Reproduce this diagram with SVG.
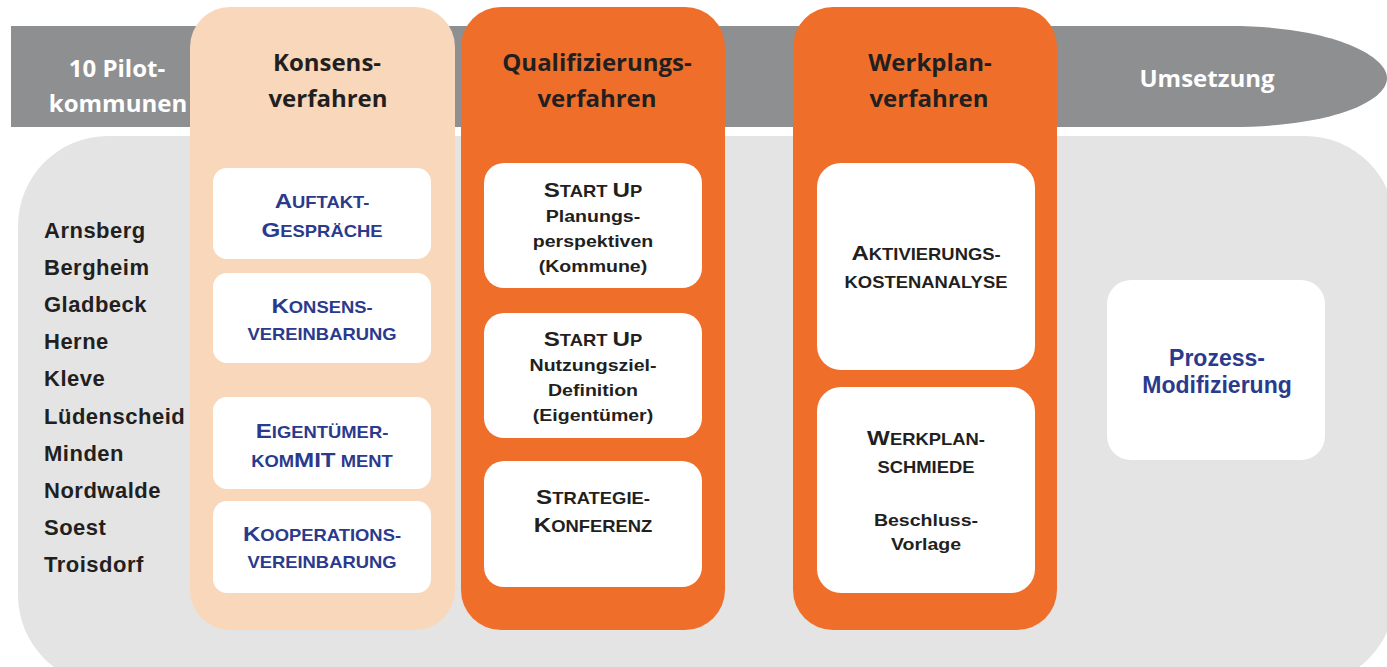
<svg xmlns="http://www.w3.org/2000/svg" width="1387" height="667" viewBox="0 0 1387 667">
<style>
.h{font-family:"Open Sans","Liberation Sans",sans-serif;font-weight:700;font-size:24px;text-anchor:middle}
.w{fill:#ffffff}
.d{fill:#231F20}
.bl{fill:#2B3A8C}
.bx{font-family:"Liberation Sans",Arial,sans-serif;font-weight:700;font-size:17px;text-anchor:middle}
.S{font-size:16px}
.L{font-size:21px}
.city{font-family:"Liberation Sans",Arial,sans-serif;font-weight:700;font-size:22px;letter-spacing:0.5px;fill:#231F20}
.card{fill:#ffffff}
.peach{fill:#F8D7BA}
.orange{fill:#EF6F2A}
</style>
<rect width="1387" height="667" fill="#ffffff"/>
<g id="banner">
<path d="M11 26 H1230 C1330 26 1387 55 1387 78 C1387 102 1330 127 1230 127 H11 Z" fill="#8E8F91"/>
<text class="h w" x="117" y="77">10 Pilot-</text>
<text class="h w" x="118" y="112">kommunen</text>
<text class="h w" x="1207" y="87">Umsetzung</text>
</g>
<g id="panel">
<path d="M18 226 A90 90 0 0 1 108 136 H1305 A90 90 0 0 1 1395 226 V595 A90 90 0 0 1 1305 685 H108 A90 90 0 0 1 18 595 Z" fill="#E4E4E4"/>
</g>
<g id="cities">
<text class="city" x="44" y="238">Arnsberg</text>
<text class="city" x="44" y="275">Bergheim</text>
<text class="city" x="44" y="312">Gladbeck</text>
<text class="city" x="44" y="349">Herne</text>
<text class="city" x="44" y="386">Kleve</text>
<text class="city" x="44" y="424">Lüdenscheid</text>
<text class="city" x="44" y="461">Minden</text>
<text class="city" x="44" y="498">Nordwalde</text>
<text class="city" x="44" y="535">Soest</text>
<text class="city" x="44" y="572">Troisdorf</text>
</g>
<g id="konsensverfahren">
<rect class="peach" x="190" y="7" width="265" height="623" rx="40"/>
<text class="h d" x="327" y="71">Konsens-</text>
<text class="h d" x="328" y="107">verfahren</text>
</g>
<g id="auftakt">
<rect class="card" x="213" y="168" width="218" height="91" rx="14"/>
<g transform="matrix(1.15 0 0 1 322 0)">
<text class="bx bl S" x="0" y="208"><tspan class="L">A</tspan>UFTAKT-</text>
<text class="bx bl S" x="0" y="237"><tspan class="L">G</tspan>ESPRÄCHE</text>
</g>
</g>
<g id="konsensvereinbarung">
<rect class="card" x="213" y="273" width="218" height="90" rx="14"/>
<g transform="matrix(1.15 0 0 1 322 0)">
<text class="bx bl S" x="0" y="313"><tspan class="L">K</tspan>ONSENS-</text>
<text class="bx bl S" x="0" y="340">VEREINBARUNG</text>
</g>
</g>
<g id="eigentuemer">
<rect class="card" x="213" y="397" width="218" height="92" rx="14"/>
<g transform="matrix(1.15 0 0 1 322 0)">
<text class="bx bl S" x="0" y="438"><tspan class="L">E</tspan>IGENTÜMER-</text>
<text class="bx bl S" x="0" y="467">KOM<tspan class="L">MIT</tspan> MENT</text>
</g>
</g>
<g id="kooperation">
<rect class="card" x="213" y="501" width="218" height="92" rx="14"/>
<g transform="matrix(1.15 0 0 1 322 0)">
<text class="bx bl S" x="0" y="541"><tspan class="L">K</tspan>OOPERATIONS-</text>
<text class="bx bl S" x="0" y="568">VEREINBARUNG</text>
</g>
</g>
<g id="qualifizierungsverfahren">
<rect class="orange" x="461" y="7" width="264" height="623" rx="40"/>
<text class="h d" x="597" y="71">Qualifizierungs-</text>
<text class="h d" x="597" y="107">verfahren</text>
</g>
<g id="startup1">
<rect class="card" x="484" y="163" width="218" height="125" rx="20"/>
<g transform="matrix(1.15 0 0 1 593 0)">
<text class="bx d S" x="0" y="197"><tspan class="L">S</tspan>TART <tspan class="L">U</tspan>P</text>
<text class="bx d" x="0" y="222">Planungs-</text>
<text class="bx d" x="0" y="247">perspektiven</text>
<text class="bx d" x="0" y="272">(Kommune)</text>
</g>
</g>
<g id="startup2">
<rect class="card" x="484" y="313" width="218" height="125" rx="20"/>
<g transform="matrix(1.15 0 0 1 593 0)">
<text class="bx d S" x="0" y="346"><tspan class="L">S</tspan>TART <tspan class="L">U</tspan>P</text>
<text class="bx d" x="0" y="371">Nutzungsziel-</text>
<text class="bx d" x="0" y="396">Definition</text>
<text class="bx d" x="0" y="421">(Eigentümer)</text>
</g>
</g>
<g id="strategiekonferenz">
<rect class="card" x="484" y="461" width="218" height="126" rx="20"/>
<g transform="matrix(1.15 0 0 1 593 0)">
<text class="bx d S" x="0" y="504"><tspan class="L">S</tspan>TRATEGIE-</text>
<text class="bx d S" x="0" y="532"><tspan class="L">K</tspan>ONFERENZ</text>
</g>
</g>
<g id="werkplanverfahren">
<rect class="orange" x="793" y="7" width="264" height="623" rx="40"/>
<text class="h d" x="930" y="71">Werkplan-</text>
<text class="h d" x="929" y="107">verfahren</text>
</g>
<g id="aktivierung">
<rect class="card" x="817" y="163" width="218" height="207" rx="24"/>
<g transform="matrix(1.15 0 0 1 926 0)">
<text class="bx d S" x="0" y="260"><tspan class="L">A</tspan>KTIVIERUNGS-</text>
<text class="bx d S" x="0" y="288">KOSTENANALYSE</text>
</g>
</g>
<g id="werkplanschmiede">
<rect class="card" x="817" y="387" width="218" height="206" rx="24"/>
<g transform="matrix(1.15 0 0 1 926 0)">
<text class="bx d S" x="0" y="445"><tspan class="L">W</tspan>ERKPLAN-</text>
<text class="bx d S" x="0" y="473">SCHMIEDE</text>
<text class="bx d" x="0" y="526">Beschluss-</text>
<text class="bx d" x="0" y="550">Vorlage</text>
</g>
</g>
<g id="prozessmodifizierung">
<rect class="card" x="1107" y="280" width="218" height="180" rx="24"/>
<text class="bx bl" x="1217" y="366" style="font-size:23px">Prozess-</text>
<text class="bx bl" x="1217" y="393" style="font-size:23px">Modifizierung</text>
</g>
</svg>
